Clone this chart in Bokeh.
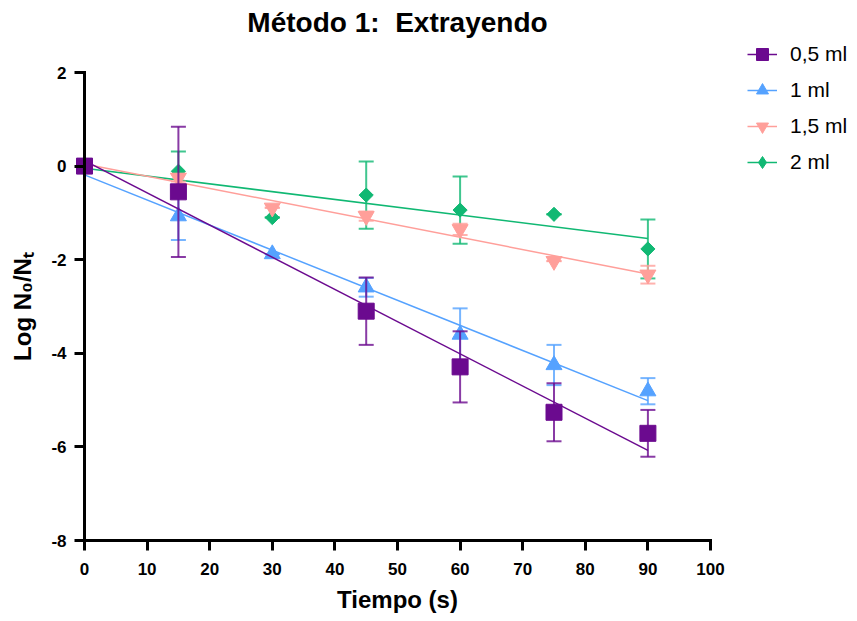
import numpy as np
from bokeh.plotting import figure
from bokeh.models import Range1d, FixedTicker, Legend, LegendItem, ColumnDataSource, Label
from bokeh.embed import file_html
from bokeh.resources import INLINE

# ---- data ----
x_ticks = [0, 10, 20, 30, 40, 50, 60, 70, 80, 90, 100]
y_ticks = [-8, -6, -4, -2, 0, 2]

title_text = "Método 1:\u00a0 Extrayendo"
x_label = "Tiempo (s)"
y_label = "Log N₀/Nₜ"
series_names = ["0,5 ml", "1 ml", "1,5 ml", "2 ml"]

x_05 = [0, 15, 45, 60, 75, 90]
y_05 = [0.0, -0.55, -3.10, -4.29, -5.26, -5.71]
e_05 = [0.0, 1.39, 0.72, 0.76, 0.62, 0.50]

x_1 = [0, 15, 30, 45, 60, 75, 90]
y_1 = [0.0, -1.07, -1.88, -2.59, -3.60, -4.25, -4.81]
e_1 = [0.0, 0.51, 0.0, 0.20, 0.56, 0.43, 0.28]

x_15 = [0, 15, 30, 45, 60, 75, 90]
y_15 = [0.0, -0.25, -0.89, -1.07, -1.35, -2.03, -2.32]
e_15 = [0.0, 0.08, 0.0, 0.10, 0.12, 0.0, 0.19]

x_2 = [0, 15, 30, 45, 60, 75, 90]
y_2 = [0.0, -0.11, -1.10, -0.62, -0.94, -1.03, -1.77]
e_2 = [0.0, 0.42, 0.0, 0.72, 0.72, 0.0, 0.63]

colors = ["#6B0A8F", "#55A2FF", "#FF9F9A", "#10B873"]

FONT = "Liberation Sans"

# ---- layout: the frame covers the whole canvas; axes sit at fixed data locations ----
W, H = 856, 620
X0_PX, X100_PX = 84, 710      # where x=0 and x=100 fall
Y2_PX, YM8_PX = 72, 540       # where y=2 and y=-8 fall
sx = (X100_PX - X0_PX) / 100.0
sy = (YM8_PX - Y2_PX) / 10.0
x_rng = Range1d(0 - X0_PX / sx, 0 + (W - X0_PX) / sx)
y_rng = Range1d(-8 - (H - YM8_PX) / sy, 2 + Y2_PX / sy)

p = figure(width=W, height=H, output_backend="svg", toolbar_location=None,
           x_range=x_rng, y_range=y_rng, min_border=0)
p.min_border_left = 0
p.min_border_right = 0
p.min_border_top = 0
p.min_border_bottom = 0
p.outline_line_color = None
p.xgrid.visible = False
p.ygrid.visible = False

xa = p.xaxis[0]
xa.ticker = FixedTicker(ticks=x_ticks)
xa.bounds = (0, 100)
xa.fixed_location = -8
ya = p.yaxis[0]
ya.ticker = FixedTicker(ticks=y_ticks)
ya.bounds = (-8, 2)
ya.fixed_location = 0
ya.major_label_overrides = {t: str(t) for t in y_ticks}

for ax in (xa, ya):
    ax.axis_line_width = 3
    ax.axis_line_cap = "square"
    ax.major_tick_line_width = 3
    ax.major_tick_out = 10
    ax.major_tick_in = 0
    ax.minor_tick_line_color = None
    ax.major_label_text_font = FONT
    ax.major_label_text_font_size = "17px"
    ax.major_label_text_font_style = "bold"
    ax.major_label_text_color = "black"
    ax.axis_label_text_font = FONT
    ax.axis_label_text_font_size = "24px"
    ax.axis_label_text_font_style = "bold"
    ax.axis_label_text_color = "black"

xa.major_label_standoff = 12
ya.major_label_standoff = 8
xa.axis_label = x_label
xa.axis_label_standoff = 8
ya.axis_label = y_label
ya.axis_label_standoff = 12

title = Label(x=(X0_PX + X100_PX) / 2, y=H - 22, x_units="screen", y_units="screen",
              text=title_text, text_align="center", text_baseline="middle",
              text_font=FONT, text_font_size="28px", text_font_style="bold",
              text_color="black")
p.add_layout(title)

series = [
    (x_05, y_05, e_05, "square", 16, 0.0, None),
    (x_1, y_1, e_1, "triangle", 16, 0.0, None),
    (x_15, y_15, e_15, "inverted_triangle", 16, 0.0, None),
    (x_2, y_2, e_2, "square", 10, np.pi / 4, "diamond"),
]

items = {}
for idx in [3, 2, 1, 0]:
    xs, ys, es, mk, sz, ang, leg_mk = series[idx]
    c = colors[idx]
    xs_a = np.array(xs, dtype=float)
    ys_a = np.array(ys, dtype=float)
    es_a = np.array(es, dtype=float)
    src = ColumnDataSource(dict(x=xs_a, y=ys_a, lo=ys_a - es_a, hi=ys_a + es_a))
    # error bars
    p.segment(x0="x", y0="lo", x1="x", y1="hi", source=src, line_color=c,
              line_width=2, line_alpha=0.8)
    p.scatter(x="x", y="hi", source=src, marker="dash", size=15, line_color=c,
              line_width=2, line_alpha=0.8)
    p.scatter(x="x", y="lo", source=src, marker="dash", size=15, line_color=c,
              line_width=2, line_alpha=0.8)
    # linear regression line through the points
    k, b = np.polyfit(xs_a, ys_a, 1)
    xf = np.array([xs_a.min(), xs_a.max()])
    lr = p.line(xf, k * xf + b, line_color=c, line_width=1.5)
    mr = p.scatter(x="x", y="y", source=src, marker=mk, size=sz, angle=ang,
                   fill_color=c, line_color=c)
    if leg_mk is not None:
        # legend-only key glyph (a non-plotted NaN point) so the key shows a diamond
        leg_r = p.scatter(x=[np.nan], y=[np.nan], marker=leg_mk,
                          fill_color=c, line_color=c)
        items[idx] = LegendItem(label=series_names[idx], renderers=[lr, leg_r])
    else:
        items[idx] = LegendItem(label=series_names[idx], renderers=[lr, mr])

legend = Legend(items=[items[i] for i in range(4)], location=(747, 443))
legend.label_text_font = FONT
legend.label_text_font_size = "21px"
legend.label_text_color = "black"
legend.glyph_width = 30
legend.glyph_height = 30
legend.spacing = 6
legend.label_standoff = 13
legend.padding = 5
legend.margin = 0
legend.border_line_color = None
legend.background_fill_alpha = 0
p.add_layout(legend)

open("out.html", "w").write(file_html(p, INLINE))
